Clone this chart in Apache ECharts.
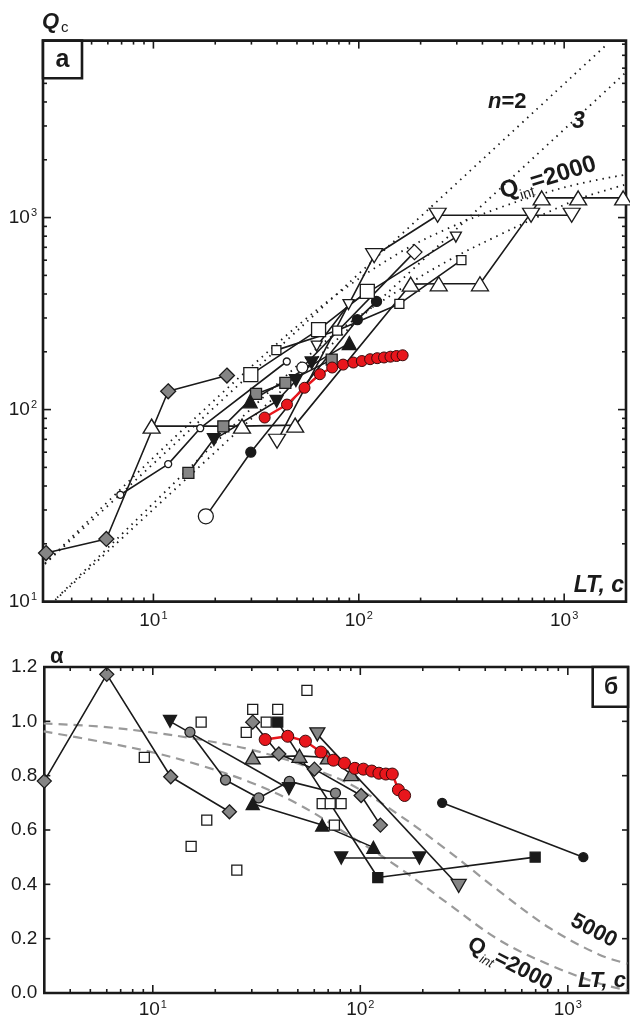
<!DOCTYPE html>
<html><head><meta charset="utf-8">
<script src="https://cdn.jsdelivr.net/npm/echarts@6/dist/echarts.min.js"></script>
<style>html,body{margin:0;padding:0;background:#fff}#c{width:630px;height:1019px}</style>
</head><body><div id="c"></div>
<script>
// ================= DATA =================
// Panel "а": Qc versus lapse time LT, c  (pairs [LT, Qc])
const aGrayDiamond   = [[3.0,17.9],[5.9,21.2],[11.8,124.5],[22.8,150.4]];
const aSmallOpenCirc = [[6.9,36],[11.8,52],[16.9,80],[44.6,178]];
const aOpenUpTri     = [[9.8,82],[27,82],[49,83],[179,450],[245,452],[389,452],[777,1266],[1170,1266],[1937,1266]];
const aOpenDownTri   = [[40,68.4],[118.8,633],[242,1028],[690,1028],[1088,1028]];
const aBigOpenCirc   = [[18,27.8]];
const aFilledCirc    = [[29.8,60],[98.4,294],[122,366]];
const aGraySquare    = [[14.8,46.8],[21.9,81.8],[31.6,120.7],[43.9,137.7],[73.8,182]];
const aFilledDownTri = [[19.7,69.8],[39.8,110.5],[49.4,141.6],[59,175]];
const aFilledUpTri   = [[29.6,110.5],[89.9,222]];
const aBigOpenSquare = [[29.8,152],[63.7,261],[110,413]];
const aSmallOpenSq   = [[39.7,204],[78.5,258],[157.6,355],[316,601]];
const aMidOpenCirc   = [[53.1,165.6]];
const aOpenDiamond   = [[186.6,661]];
const aSmallDownTri  = [[62.4,214],[89.1,352],[297,791]];
// red series (shared lapse times)
const redLT    = [34.8,44.7,54.4,64.6,74.2,83.9,94.1,103.5,113.5,122.9,132.7,142.6,152.6,163.5];
const redQc    = [90.9,106.2,129.9,152.8,165.6,171.5,175.8,179,183,185.2,186.8,188.6,190.1,191.8];
const redAlpha = [0.933,0.945,0.927,0.887,0.857,0.846,0.827,0.824,0.817,0.809,0.806,0.806,0.748,0.727];
// model curves, panel "а"
const curveN2   = [[2.81,14.9],[51.8,266],[1603,7925]];
const curveN3   = [[3.33,10.2],[1995,5700]];
const curveQ2a  = [[2.97,15.8],[9.64,54.2],[29.6,165.5],[72.4,374],[158.6,658],[278,887],[487,1127],[788,1334],[1192,1503],[1995,1675]];
const curveQ3a  = [[3.4,10.5],[9.64,31.3],[29.6,100],[72.4,237],[158.6,422],[278,604],[487,815],[788,1037],[1192,1256],[1995,1486]];

// Panel "б": alpha versus LT  (pairs [LT, alpha])
const bGrayDiamond1  = [[3.0,0.78],[6.0,1.173],[12.2,0.796],[23.4,0.667]];
const bOpenSquares   = [[9.1,0.867],[15.3,0.54],[18.2,0.636],[25.4,0.452],[17.1,0.997],[28.2,0.959],[30.3,1.044],[35.2,0.997],[40.0,1.044],[55.3,1.114],[65.5,0.697],[71.6,0.697],[80.8,0.697],[75.0,0.618]];
const bFilledSquare  = [[40,0.997],[121.4,0.425],[696,0.50]];
const bFilledCirc    = [[248,0.70],[1188,0.50]];
const bGrayCirc      = [[15.1,0.96],[22.4,0.784],[32.4,0.718],[45.5,0.779],[75.9,0.736]];
const bFilledDownTri1= [[12.1,1.0],[45.3,0.752]];
const bFilledDownTri2= [[80.9,0.497],[192.6,0.497]];
const bFilledUpTri   = [[30.3,0.697],[65.5,0.618],[115.6,0.536]];
const bGrayUpTri     = [[30.3,0.867],[50.9,0.873],[69.7,0.867],[90.4,0.806]];
const bGrayDownTri   = [[62.1,0.952],[298,0.394]];
const bGrayDiamond2  = [[30.3,0.997],[40.5,0.88],[60.1,0.824],[100.9,0.727],[125,0.618]];
const bCurve5000 = [[2.98,0.992],[5.53,0.981],[9.97,0.959],[16.8,0.933],[29.2,0.897],[50.8,0.843],[88.4,0.77],[154,0.655],[268,0.52],[467,0.375],[814,0.24],[1418,0.141],[1936,0.108]];
const bCurve2000 = [[2.98,0.963],[5.53,0.926],[9.97,0.886],[16.8,0.839],[29.2,0.777],[50.8,0.693],[88.4,0.58],[154,0.461],[268,0.326],[467,0.195],[814,0.104],[1418,0.035],[1936,0.01]];

// ticks
const logMinorX = [4,5,6,7,8,9,20,30,40,50,60,70,80,90,200,300,400,500,600,700,800,900];
const logMajorX = [10,100,1000];
const topMinorY = [20,30,40,50,60,70,80,90,200,300,400,500,600,700,800,900,2000,3000,4000,5000,6000,7000,8000];
const topMajorY = [100,1000];
const botMajorY = [0.2,0.4,0.6,0.8,1.0];

// ================= CHART =================
const K = '#1a1a1a', G = '#858585', RED = '#e8161c';
const FONT = '"Liberation Sans", Arial, sans-serif';
const chart = echarts.init(document.getElementById('c'), null, {renderer:'canvas'});

function supLabel(v){
  const e = Math.log10(v), r = Math.round(e);
  if (Math.abs(e - r) > 1e-6) return '';
  return '{b|10}{s|' + r + '}';
}
const supRich = {
  b:{fontSize:19, fontFamily:FONT, color:K},
  s:{fontSize:11, fontFamily:FONT, color:K, padding:[0,0,10,1]}
};

function ticks(xi, yi, xs, ys, ax, ay){
  const data = [];
  xs.forEach(t => data.push([t[0], ay, 0, t[1]]));
  ys.forEach(t => data.push([ax, t[0], 1, t[1]]));
  return {
    type:'custom', xAxisIndex:xi, yAxisIndex:yi, silent:true, z:20, clip:false, data,
    renderItem(params, api){
      const cs = params.coordSys;
      const p = api.coord([api.value(0), api.value(1)]);
      const L = api.value(3);
      const st = {stroke:K, lineWidth:1.6};
      if (api.value(2) === 0){
        const x = p[0], b = cs.y + cs.height, t = cs.y;
        return {type:'group', children:[
          {type:'line', shape:{x1:x,y1:b,x2:x,y2:b-L}, style:st},
          {type:'line', shape:{x1:x,y1:t,x2:x,y2:t+L}, style:st}]};
      }
      const y = p[1], l = cs.x, r = cs.x + cs.width;
      return {type:'group', children:[
        {type:'line', shape:{x1:l,y1:y,x2:l+L,y2:y}, style:st},
        {type:'line', shape:{x1:r,y1:y,x2:r-L,y2:y}, style:st}]};
    }
  };
}

function line(xi, data, symbol, size, fill, opts){
  opts = opts || {};
  return Object.assign({
    type:'line', xAxisIndex:xi, yAxisIndex:xi, data, symbol, symbolSize:size,
    symbolRotate: opts.rot || 0, showAllSymbol:true, animation:false,
    lineStyle:{color:K, width:1.6, type:'solid', opacity: opts.noLine ? 0 : 1},
    itemStyle:{color:fill, borderColor:K, borderWidth:1.3, opacity:1},
    z: opts.z || 5, clip:true
  }, opts.extra || {});
}
function dotted(xi, data, type, color, w){
  return {type:'line', xAxisIndex:xi, yAxisIndex:xi, data, symbol:'none', smooth:0.35,
    lineStyle:{color:color, width:w, type:type}, z:2, clip:true, silent:true};
}

const tickTop = ticks(0,0,
  logMinorX.map(v=>[v,4]).concat(logMajorX.map(v=>[v,8])),
  topMinorY.map(v=>[v,4]).concat(topMajorY.map(v=>[v,8])), 50, 100);
const tickBot = ticks(1,1,
  logMinorX.map(v=>[v,4]).concat(logMajorX.map(v=>[v,8])),
  botMajorY.map(v=>[v,6]), 50, 0.5);

const option = {
  animation:false,
  backgroundColor:'#fff',
  grid:[
    {left:43, top:40.6, width:583, height:561, show:true, borderColor:K, borderWidth:2.6, backgroundColor:'transparent'},
    {left:44.3, top:667, width:583.7, height:329.7, show:true, borderColor:K, borderWidth:2.6, backgroundColor:'transparent'}
  ],
  xAxis:[
    {gridIndex:0, type:'log', logBase:10, min:2.9, max:2000, axisLine:{show:false}, axisTick:{show:false}, splitLine:{show:false},
     axisLabel:{formatter:supLabel, rich:supRich, margin:9, showMinLabel:false, showMaxLabel:false}},
    {gridIndex:1, type:'log', logBase:10, min:3, max:1950, axisLine:{show:false}, axisTick:{show:false}, splitLine:{show:false},
     axisLabel:{formatter:supLabel, rich:supRich, margin:6, showMinLabel:false, showMaxLabel:false}}
  ],
  yAxis:[
    {gridIndex:0, type:'log', logBase:10, min:10, max:8350, axisLine:{show:false}, axisTick:{show:false}, splitLine:{show:false},
     axisLabel:{formatter:supLabel, rich:supRich, margin:6, showMaxLabel:false}},
    {gridIndex:1, type:'value', min:0, max:1.2, interval:0.2, axisLine:{show:false}, axisTick:{show:false}, splitLine:{show:false},
     axisLabel:{formatter:v=>v.toFixed(1), fontSize:19, fontFamily:FONT, color:K, margin:7}}
  ],
  series:[
    tickTop, tickBot,
    // panel а model curves
    dotted(0, curveN2, [1.5,5], K, 1.8),
    dotted(0, curveN3, [1.5,5], K, 1.8),
    dotted(0, curveQ2a, [1.5,5], K, 1.8),
    dotted(0, curveQ3a, [1.5,5], K, 1.8),
    // panel а data
    line(0, aGrayDiamond, 'diamond', 15, G),
    line(0, aSmallOpenCirc, 'circle', 7, '#fff'),
    line(0, aOpenUpTri, 'triangle', [17,14], '#fff'),
    line(0, aOpenDownTri, 'triangle', [17,14], '#fff', {rot:180}),
    line(0, aBigOpenCirc.concat(aFilledCirc).map((p,i)=> i===0 ? {value:p, symbol:'circle', symbolSize:15, itemStyle:{color:'#fff'}} : {value:p}), 'circle', 10, K),
    line(0, aGraySquare, 'rect', 11, G),
    line(0, aFilledDownTri, 'triangle', [13,12], K, {rot:180}),
    line(0, aFilledUpTri, 'triangle', [14,13], K),
    line(0, aBigOpenSquare, 'rect', 14, '#fff'),
    line(0, aSmallOpenSq, 'rect', 9, '#fff'),
    line(0, aMidOpenCirc.map(p=>({value:p})).concat(aOpenDiamond.map(p=>({value:p, symbol:'diamond', symbolSize:15}))), 'circle', 11, '#fff'),
    line(0, aSmallDownTri, 'triangle', [11,10], '#fff', {rot:180}),
    {type:'line', xAxisIndex:0, yAxisIndex:0, data: redLT.map((x,i)=>[x, redQc[i]]), symbol:'circle', symbolSize:11,
     showAllSymbol:true, lineStyle:{color:RED, width:2.4}, itemStyle:{color:RED, borderColor:'#3a0a0a', borderWidth:1}, z:8},
    // panel б curves
    dotted(1, bCurve5000, [9,6], '#9a9a9a', 2.2),
    dotted(1, bCurve2000, [9,6], '#9a9a9a', 2.2),
    // panel б data
    line(1, bGrayDiamond1, 'diamond', 14, G),
    line(1, bOpenSquares, 'rect', 10, '#fff', {noLine:true}),
    line(1, bFilledSquare, 'rect', 10, K),
    line(1, bFilledCirc, 'circle', 9, K),
    line(1, bGrayCirc, 'circle', 10, G),
    line(1, bFilledDownTri1, 'triangle', [13,12], K, {rot:180}),
    line(1, bFilledDownTri2, 'triangle', [13,12], K, {rot:180}),
    line(1, bFilledUpTri, 'triangle', [13,12], K),
    line(1, bGrayUpTri, 'triangle', [15,13], G),
    line(1, bGrayDownTri, 'triangle', [15,13], G, {rot:180}),
    line(1, bGrayDiamond2, 'diamond', 14, G),
    {type:'line', xAxisIndex:1, yAxisIndex:1, data: redLT.map((x,i)=>[x, redAlpha[i]]), symbol:'circle', symbolSize:12,
     showAllSymbol:true, lineStyle:{color:RED, width:2.4}, itemStyle:{color:RED, borderColor:'#3a0a0a', borderWidth:1}, z:8}
  ],
  graphic:[
    // axis titles
    {type:'text', left:42, top:11, style:{text:'Q', font:'bold italic 22px '+FONT, fill:K}},
    {type:'text', left:61, top:20, style:{text:'с', font:'15px '+FONT, fill:K}},
    {type:'text', left:50, top:646, style:{text:'α', font:'bold 22px '+FONT, fill:K}},
    // panel labels
    {type:'rect', shape:{x:43, y:40.6, width:39, height:37.7}, style:{fill:'#fff', stroke:K, lineWidth:2.6}, z:30},
    {type:'text', x:62.5, y:60, style:{text:'а', font:'bold 25px '+FONT, fill:K, textAlign:'center', textVerticalAlign:'middle'}, z:31},
    {type:'rect', shape:{x:592.7, y:667, width:35.3, height:39.7}, style:{fill:'#fff', stroke:K, lineWidth:2.6}, z:30},
    {type:'text', x:611, y:688, style:{text:'б', font:'bold 23px '+FONT, fill:K, textAlign:'center', textVerticalAlign:'middle'}, z:31},
    // LT labels
    {type:'text', x:624, y:597, style:{text:'LT, с', font:'bold italic 23px '+FONT, fill:K, textAlign:'right', textVerticalAlign:'bottom'}, z:31},
    {type:'text', x:626, y:992, style:{text:'LT, с', font:'bold italic 22px '+FONT, fill:K, textAlign:'right', textVerticalAlign:'bottom'}, z:31},
    // model annotations panel а
    {type:'text', x:488, y:113, style:{text:'{i|n}{b|=2}', rich:{i:{font:'bold italic 22px '+FONT, fill:K}, b:{font:'bold 22px '+FONT, fill:K}}, textVerticalAlign:'bottom'}, z:31},
    {type:'text', x:572, y:133, style:{text:'3', font:'bold italic 23px '+FONT, fill:K, textVerticalAlign:'bottom'}, z:31},
    {type:'group', x:504, y:204, rotation:17*Math.PI/180, z:31, children:[
      {type:'text', x:0, y:0, style:{text:'Q', font:'bold 24px '+FONT, fill:K, textVerticalAlign:'bottom'}},
      {type:'text', x:18, y:4, style:{text:'int', font:'14px '+FONT, fill:K, textVerticalAlign:'bottom'}},
      {type:'text', x:32, y:0, style:{text:'=2000', font:'bold 24px '+FONT, fill:K, textVerticalAlign:'bottom'}}
    ]},
    // annotations panel б
    {type:'group', x:567, y:929, rotation:-28*Math.PI/180, z:31, children:[
      {type:'text', x:0, y:0, style:{text:'5000', font:'bold 22px '+FONT, fill:K, textVerticalAlign:'bottom'}}
    ]},
    {type:'group', x:464, y:953, rotation:-27*Math.PI/180, z:31, children:[
      {type:'text', x:0, y:0, style:{text:'Q', font:'bold 22px '+FONT, fill:K, textVerticalAlign:'bottom'}},
      {type:'text', x:17, y:4, style:{text:'int', font:'italic 13px '+FONT, fill:K, textVerticalAlign:'bottom'}},
      {type:'text', x:30, y:0, style:{text:'=2000', font:'bold 22px '+FONT, fill:K, textVerticalAlign:'bottom'}}
    ]}
  ]
};
chart.setOption(option);
</script>
</body></html>
